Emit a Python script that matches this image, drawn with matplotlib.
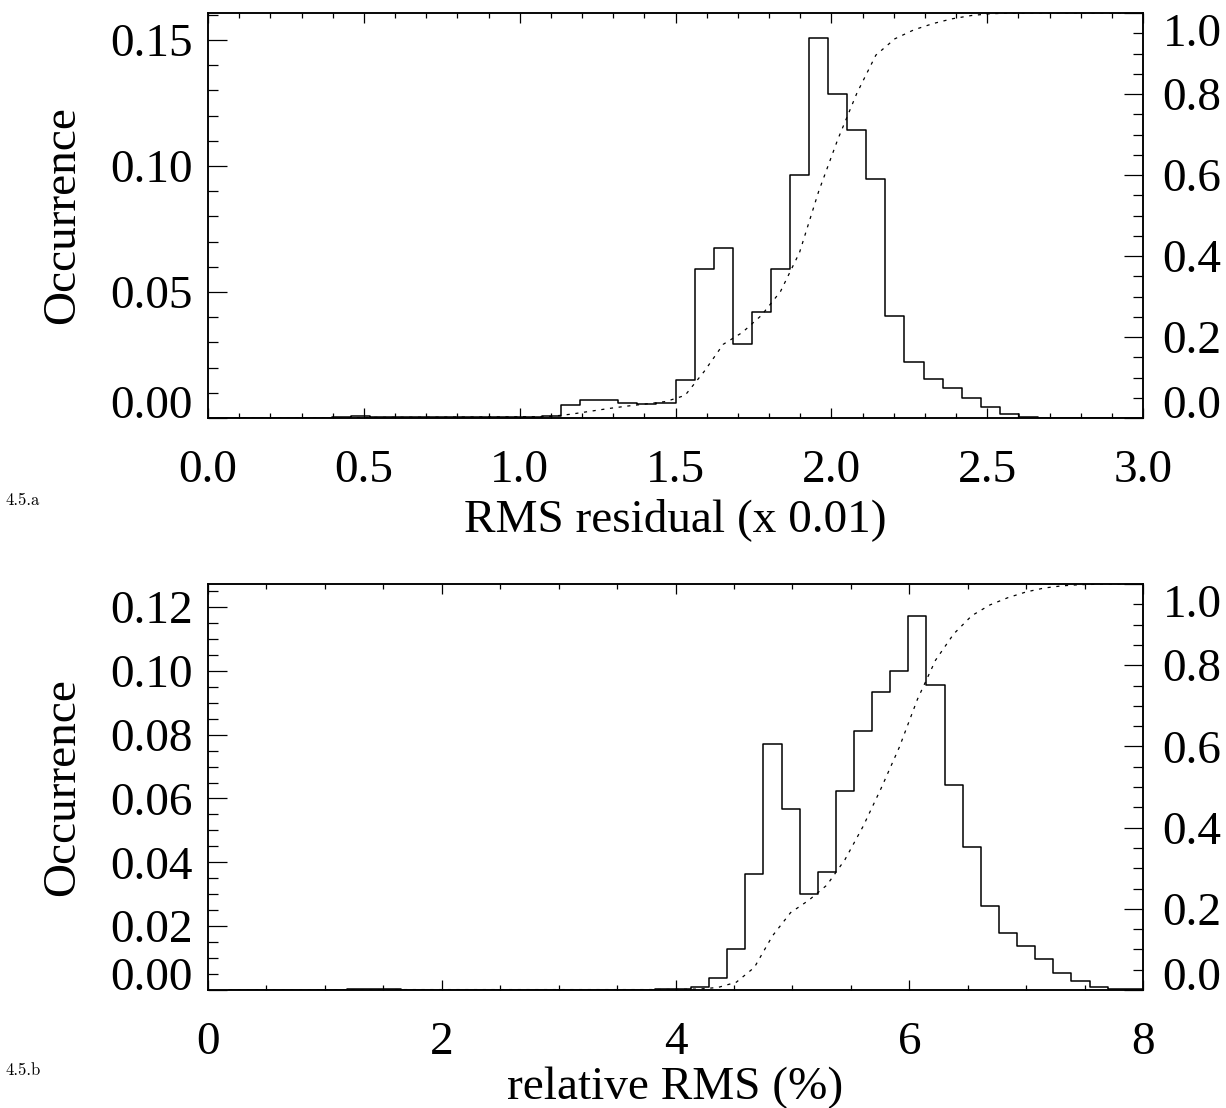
import numpy as np
import matplotlib
matplotlib.use("Agg")
import matplotlib.pyplot as plt
from matplotlib.ticker import MultipleLocator

plt.rcParams["font.family"] = "Liberation Serif"

# --- panel 4.5.a : RMS residual (x 0.01), bin centres k * 3/49 ---
rms_first_centre = 0.0
rms_bin_width = 3.0 / 49
rms_occurrence = [
    0, 0, 0, 0, 0, 0, 0, 0.0003, 0.0008, 0.0004,
    0.0002, 0.0002, 0.0002, 0.0002, 0.0002, 0.0002, 0.0002, 0.0003, 0.0009, 0.0052,
    0.0071, 0.0071, 0.0061, 0.0054, 0.0058, 0.0151, 0.0590, 0.0673, 0.0293, 0.0422,
    0.0590, 0.0966, 0.1507, 0.1284, 0.1143, 0.0947, 0.0405, 0.0222, 0.0154, 0.0118,
    0.0080, 0.0045, 0.0015, 0.0003, 0, 0, 0, 0, 0, 0,
]
rms_xticks = [0.0, 0.5, 1.0, 1.5, 2.0, 2.5, 3.0]
rms_yticks = [0.00, 0.05, 0.10, 0.15]

# --- panel 4.5.b : relative RMS (%) ---
rel_first_centre = 0.18
rel_bin_width = 0.155
rel_occurrence = [
    0, 0, 0, 0, 0, 0, 0, 0.0004, 0.0004, 0.0002,
    0, 0, 0, 0, 0, 0, 0, 0, 0, 0,
    0, 0, 0, 0, 0.0002, 0.0004, 0.0008, 0.0039, 0.0127, 0.0363,
    0.0771, 0.0568, 0.0301, 0.0370, 0.0624, 0.0812, 0.0935, 0.0999, 0.1172, 0.0956,
    0.0641, 0.0447, 0.0262, 0.0179, 0.0139, 0.0096, 0.0054, 0.0028, 0.0010, 0.0004,
    0.0002, 0,
]
rel_xticks = [0, 2, 4, 6, 8]
rel_yticks = [0.00, 0.02, 0.04, 0.06, 0.08, 0.10, 0.12]

cdf_ticks = [0.0, 0.2, 0.4, 0.6, 0.8, 1.0]

FS = 34
W, H = 1226, 1108


def draw_panel(rect, first_centre, width, occ, xlim, xticks, xfmt, xminor,
               ylim, yticks, yminor, xlabel, xlabel_y, tag, tag_y):
    ax = fig.add_axes(rect)
    occ = np.array(occ)
    centres = first_centre + width * np.arange(len(occ))
    ax.step(centres, occ, where="mid", color="k", lw=1.1)

    ax.set_xlim(*xlim)
    ax.set_ylim(*ylim)
    ax.set_xticks(xticks)
    ax.set_xticklabels([xfmt % t for t in xticks])
    ax.xaxis.set_minor_locator(MultipleLocator(xminor))
    ax.set_yticks(yticks)
    ax.set_yticklabels(["%.2f" % t for t in yticks])
    ax.yaxis.set_minor_locator(MultipleLocator(yminor))
    ax.tick_params(axis="x", which="both", direction="in", top=True, pad=22.5,
                   labelsize=FS, width=0.9)
    ax.tick_params(axis="x", which="major", length=7.5)
    ax.tick_params(axis="x", which="minor", length=3.8)
    ax.tick_params(axis="y", which="both", direction="in", right=False, pad=11,
                   labelsize=FS, width=0.9)
    ax.tick_params(axis="y", which="major", length=14)
    ax.tick_params(axis="y", which="minor", length=7)
    ax.get_yticklabels()[0].set_va("baseline")
    for s in ax.spines.values():
        s.set_linewidth(1.1)

    ax.set_ylabel("Occurrence", fontsize=FS, va="center")
    ax.yaxis.set_label_coords(-0.155, 0.5)
    ax.set_xlabel(xlabel, fontsize=FS, va="center")
    ax.xaxis.set_label_coords(0.5, xlabel_y)

    # cumulative distribution on the right axis
    ax2 = ax.twinx()
    cdf = np.cumsum(occ) / occ.sum()
    ax2.plot(centres, cdf, color="k", lw=0.9, ls=(0, (2.5, 4.5)))
    ax2.set_ylim(0, 1.0)
    ax2.set_yticks(cdf_ticks)
    ax2.set_yticklabels(["%.1f" % t for t in cdf_ticks])
    ax2.yaxis.set_minor_locator(MultipleLocator(0.05))
    ax2.tick_params(axis="y", which="both", direction="in", pad=14,
                    labelsize=FS, width=0.9)
    ax2.tick_params(axis="y", which="major", length=14)
    ax2.tick_params(axis="y", which="minor", length=7)
    labs = ax2.get_yticklabels()
    labs[0].set_va("baseline")
    labs[-1].set_va("top")
    for s in ax2.spines.values():
        s.set_linewidth(1.1)

    fig.text(5 / W, 1 - tag_y / H, tag, fontsize=12, family="cmr10",
             ha="left", va="center")
    return ax


fig = plt.figure(figsize=(W / 100, H / 100), dpi=100)

left, right = 208, 1143
draw_panel([left / W, 1 - 418 / H, (right - left) / W, (418 - 13) / H],
           rms_first_centre, rms_bin_width, rms_occurrence, (0, 3.0),
           rms_xticks, "%.1f", 0.1, (0, 0.1607), rms_yticks, 0.01,
           "RMS residual (x 0.01)", -0.25, "4.5.a", 500)

draw_panel([left / W, 1 - 990 / H, (right - left) / W, (990 - 584) / H],
           rel_first_centre, rel_bin_width, rel_occurrence, (0, 8),
           rel_xticks, "%d", 0.5, (0, 0.1272), rel_yticks, 0.005,
           "relative RMS (%)", -0.24, "4.5.b", 1070)

fig.savefig("out.png", dpi=100)
